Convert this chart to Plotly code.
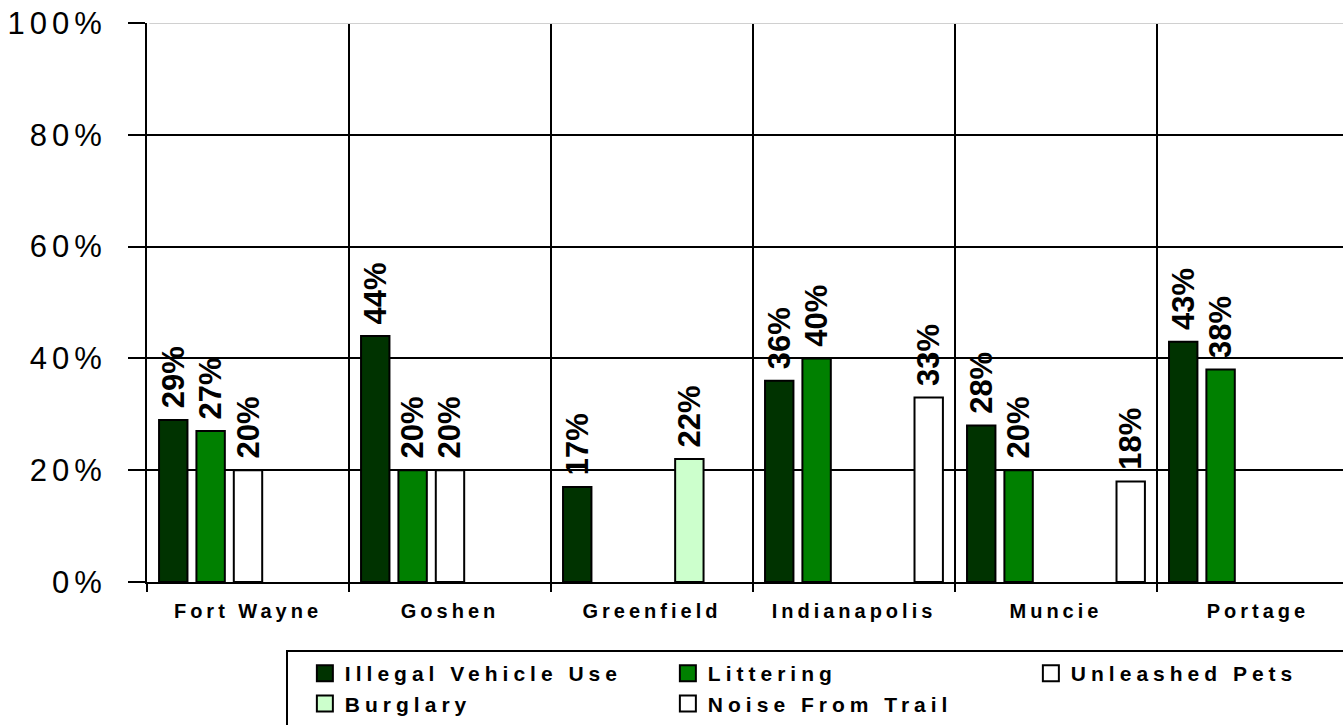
import plotly.graph_objects as go

cities = ["Fort Wayne", "Goshen", "Greenfield", "Indianapolis", "Muncie", "Portage"]
series_names = ["Illegal Vehicle Use", "Littering", "Unleashed Pets", "Burglary", "Noise From Trail"]
illegal_vehicle_use = [29, 44, 17, 36, 28, 43]
littering = [27, 20, None, 40, 20, 38]
unleashed_pets = [20, 20, None, None, None, None]
burglary = [None, None, 22, None, None, None]
noise_from_trail = [None, None, None, 33, 18, None]
y_tick_vals = [0, 20, 40, 60, 80, 100]
y_tick_text = ["0%", "20%", "40%", "60%", "80%", "100%"]

series_values = [illegal_vehicle_use, littering, unleashed_pets, burglary, noise_from_trail]
colors = ["#003300", "#008000", "#FFFFFF", "#CCFFCC", "#FFFFFF"]

FONT = "Arial, Liberation Sans, sans-serif"

fig = go.Figure()
for name, vals, col in zip(series_names, series_values, colors):
    labels = [("\u00a0%d%%" % v) if v is not None else "" for v in vals]
    fig.add_trace(go.Bar(
        x=cities, y=vals, name=name, showlegend=False,
        marker=dict(color=col, line=dict(color="black", width=2)),
        text=labels, texttemplate="%{text}", textposition="outside", textangle=-90,
        constraintext="none", cliponaxis=False,
        textfont=dict(family=FONT, size=31, color="black", weight="bold"),
        hoverinfo="skip",
    ))
# legend entries
for name, col in zip(series_names, colors):
    fig.add_trace(go.Scatter(
        x=[None], y=[None], mode="markers", name=name, hoverinfo="skip",
        marker=dict(symbol="square", size=16, color=col, line=dict(color="black", width=2)),
    ))

fig.update_layout(
    width=1343, height=725,
    margin=dict(l=147, r=0, t=23, b=143, autoexpand=False),
    plot_bgcolor="white", paper_bgcolor="white",
    barmode="group", bargap=0.075, bargroupgap=0.24,
    showlegend=True,
    legend=dict(
        orientation="h", x=0.132, xanchor="left", y=-0.127, yanchor="top",
        entrywidth=318, entrywidthmode="pixels",
        font=dict(family=FONT, size=21, color="black", weight="bold"),
        bgcolor="rgba(0,0,0,0)", borderwidth=0,
    ),
    xaxis=dict(
        type="category", categoryorder="array", categoryarray=cities,
        range=[-0.5, 5.421], tickson="boundaries",
        showgrid=True, gridcolor="black", gridwidth=2,
        showline=True, linecolor="black", linewidth=2,
        ticks="outside", ticklen=8, tickwidth=2, tickcolor="black",
        tickfont=dict(family=FONT, size=20, color="black", weight="bold"),
        ticklabelstandoff=10,
    ),
    yaxis=dict(
        range=[0, 100], tickvals=y_tick_vals, ticktext=y_tick_text,
        showgrid=True, gridcolor="black", gridwidth=2, zeroline=False,
        showline=True, linecolor="black", linewidth=2,
        ticks="outside", ticklen=17, tickwidth=2, tickcolor="black",
        tickfont=dict(family=FONT, size=31, color="black"),
        ticklabelstandoff=15,
    ),
    shapes=[
        dict(type="line", xref="paper", yref="y", x0=0.002, x1=1, y0=100, y1=100,
             line=dict(color="#d0d0d0", width=2), layer="above"),
        dict(type="rect", xref="paper", yref="paper", x0=(287 - 147) / 1196, x1=1.05,
             y0=-0.36, y1=(582 - 651) / 559,
             line=dict(color="black", width=2), fillcolor="rgba(0,0,0,0)"),
    ],
)

post = """
document.body.style.margin = '0';
document.body.style.overflow = 'hidden';
var gd = document.getElementById('{plot_id}');
function sp(){
  gd.querySelectorAll('.xtick text').forEach(function(e){e.style.letterSpacing='4px';});
  gd.querySelectorAll('.ytick text').forEach(function(e){e.style.letterSpacing='5px';});
  gd.querySelectorAll('.legendtext').forEach(function(e){e.style.letterSpacing='5px';});
}
sp();
gd.on('plotly_afterplot', sp);
"""

fig.write_html("out.html", post_script=post, config={"displayModeBar": False})
